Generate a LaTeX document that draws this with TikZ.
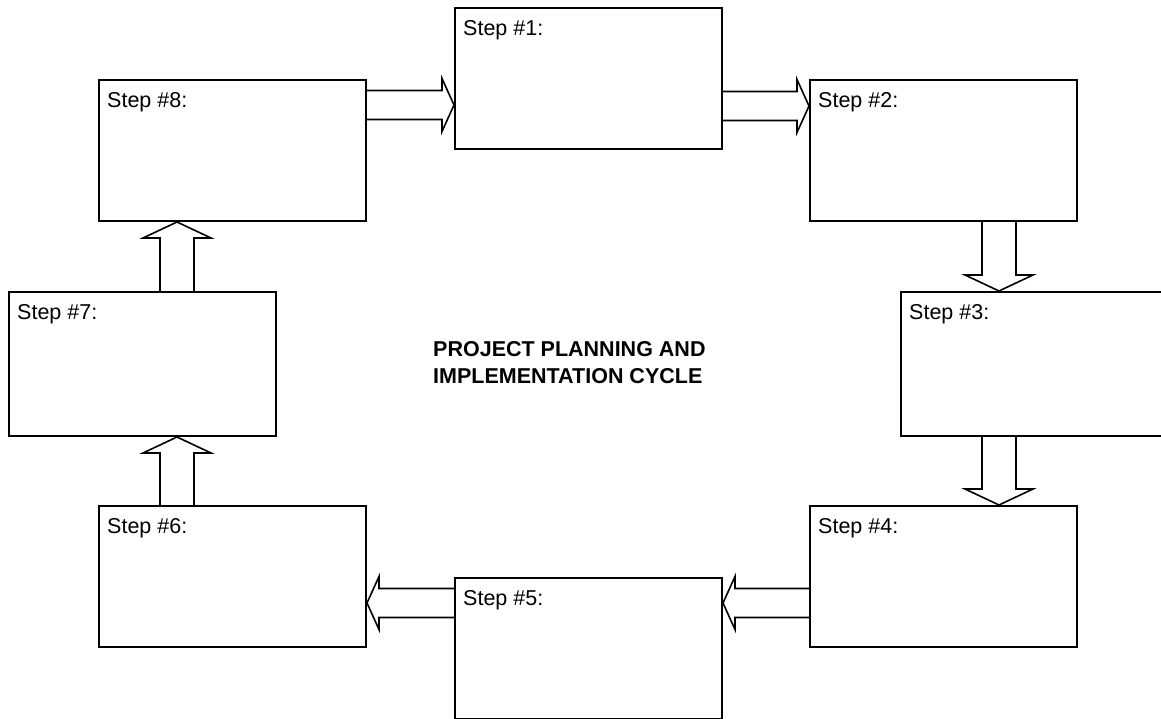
\documentclass[tikz,border=0pt]{standalone}
\usepackage{fontspec}
\setmainfont{Liberation Sans}
\usetikzlibrary{calc}

\begin{document}
\begin{tikzpicture}[
    x=1pt, y=-1pt,
    every node/.style={font=\fontsize{21.5}{27}\selectfont},
    stepbox/.style={draw, line width=2pt, anchor=north west, minimum width=267pt, minimum height=141pt, inner sep=0pt,
      label={[anchor=north west, inner sep=0pt, xshift=9pt, yshift=-13pt]north west:{#1}}},
    tall/.style={minimum height=144pt},
    fat/.style n args={3}{line width=1.6pt, to path={
      ($(\tikztostart)!#1!90:(\tikztotarget)$)
      -- ($($(\tikztotarget)!#3!(\tikztostart)$)!#1!90:(\tikztotarget)$)
      -- ($($(\tikztotarget)!#3!(\tikztostart)$)!#2!90:(\tikztotarget)$)
      -- (\tikztotarget)
      -- ($($(\tikztotarget)!#3!(\tikztostart)$)!#2!-90:(\tikztotarget)$)
      -- ($($(\tikztotarget)!#3!(\tikztostart)$)!#1!-90:(\tikztotarget)$)
      -- ($(\tikztostart)!#1!-90:(\tikztotarget)$)}},
    hfat/.style={fat={14.5pt}{26.5pt}{12pt}},
    vfat/.style={fat={17pt}{34pt}{16pt}}
]
\useasboundingbox (0,0) rectangle (1161,719);
\clip (0,0) rectangle (1161,719);

% the eight steps, clockwise from the top
\node[stepbox={Step \#1:}] (s1) at (454,7) {};
\node[stepbox={Step \#2:}] (s2) at (809,79) {};
\node[stepbox={Step \#3:}, tall] (s3) at (900,291) {};
\node[stepbox={Step \#4:}] (s4) at (809,505) {};
\node[stepbox={Step \#5:}] (s5) at (454,577) {};
\node[stepbox={Step \#6:}] (s6) at (98,505) {};
\node[stepbox={Step \#7:}, tall] (s7) at (8,291) {};
\node[stepbox={Step \#8:}] (s8) at (98,79) {};

\node[anchor=north west, inner sep=0pt, align=left, font=\bfseries\fontsize{21.5}{27}\selectfont] (title) at (433,341)
  {PROJECT PLANNING AND\\IMPLEMENTATION CYCLE};

% block arrows
\draw[hfat] (s8.east |- 0,105) to (s1.west |- 0,105);
\draw[hfat] (s1.east |- 0,106) to (s2.west |- 0,106);
\draw[vfat] (s2.south -| 999,0) to (s3.north -| 999,0);
\draw[vfat] (s3.south -| 999,0) to (s4.north -| 999,0);
\draw[hfat] (s4.west |- 0,603) to (s5.east |- 0,603);
\draw[hfat] (s5.west |- 0,603) to (s6.east |- 0,603);
\draw[vfat] (s6.north -| 177,0) to (s7.south -| 177,0);
\draw[vfat] (s7.north -| 177,0) to (s8.south -| 177,0);
\end{tikzpicture}
\end{document}
